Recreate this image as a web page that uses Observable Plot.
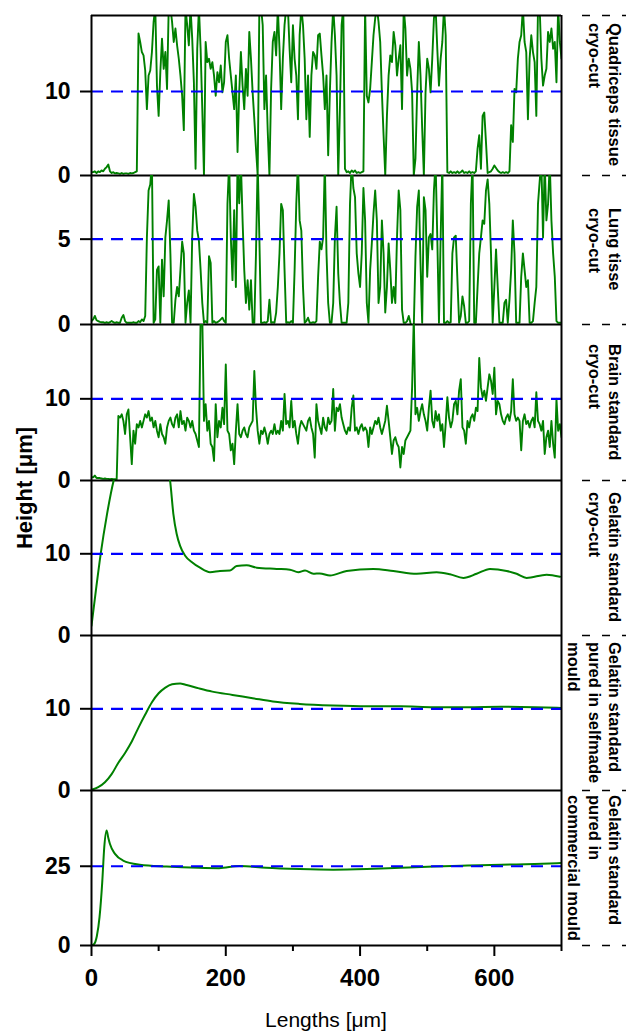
<!DOCTYPE html>
<html><head><meta charset="utf-8">
<script src="https://cdn.jsdelivr.net/npm/d3@7"></script>
<script src="https://cdn.jsdelivr.net/npm/@observablehq/plot@0.6"></script>
<style>
html,body{margin:0;padding:0;background:#fff;overflow:hidden;}
#chart{position:relative;width:626px;height:1032px;font-family:"Liberation Sans",Arial,sans-serif;color:#000;}
#chart svg{display:block;}
.side{position:absolute;right:1px;display:flex;align-items:center;}
.side div{writing-mode:vertical-rl;font-weight:bold;font-size:16.5px;line-height:20.5px;white-space:pre;}
.ylab{position:absolute;left:25px;top:488px;transform:translate(-50%,-50%) rotate(-90deg);font-weight:bold;font-size:22px;white-space:nowrap;}
.xlab{position:absolute;left:91px;width:470px;top:1009px;text-align:center;font-size:21px;line-height:21px;}
</style></head><body><div id="chart"></div><script>
// ---------- data ----------
const sampleStep = 2.5; // µm between profile samples of the cryo-cut tissue profiles

const quadricepsHeights = [
0.4,0.4,0.5,0.3,0.5,0.4,0.6,0.5,0.8,1.0,
1.3,0.5,0.3,0.4,0.25,0.3,0.25,0.2,0.3,0.2,
0.25,0.25,0.2,0.3,0.25,0.3,0.4,0.5,16.9,15.9,
14.7,14.3,12.5,7.9,11.9,12.5,14.7,18.3,20,10.7,
7.1,12.3,16.3,12.7,14.7,10.3,20,20,18.3,15.9,
17.5,15.5,13.9,11.9,9.5,5.4,20,17.9,15.5,20,
16.3,11.1,0.8,15.1,20,15.1,7.9,0,15.9,13.5,
13.9,12.7,13.5,11.9,9.5,12.3,11.1,13.1,9.9,11.1,
15.9,16.7,13.9,11.9,9.9,7.9,11.9,2.8,9.9,14.7,
10.7,7.9,12.7,9.5,17.1,13.9,9.9,6.7,3.2,0,
20,20,17.9,7.9,11.9,5.2,0,10.3,15.9,17.1,
14.3,20,15.1,7.9,13.9,17.9,20,20,15.1,11.1,
17.9,13.9,11.9,6.7,16.7,20,17.9,13.9,6.7,11.9,
4.6,11.9,14.7,14.3,12.7,16.7,16.9,14.3,11.9,7.9,
11.9,2.4,9.9,15.9,20,16.7,11.9,0,7.9,17.9,
20,0.8,0.4,0.5,0.3,0.6,0.4,0.6,0.3,0.4,
0.3,0.4,0.5,20,9.5,8.7,10.3,13.5,16.7,18.7,
20,18.3,15.9,9.9,4.8,0,7.1,11.9,14.3,13.5,
17.1,15.5,11.9,13.9,15.5,7.9,20,17.5,11.9,13.9,
12.7,9.9,0,2.0,9.9,15.9,11.9,5.6,0,9.9,
13.9,12.7,9.9,13.9,18.7,20,15.1,10.7,13.9,15.9,
20,16.7,0.4,0.3,0.5,0.3,0.4,0.3,0.5,0.3,
0.4,0.6,0.3,0.4,0.3,0.5,0.3,0.4,0.3,0.5,
3.2,4.8,0.8,7.1,7.5,4.0,0.3,0.4,0.5,0.8,
1.2,0.9,0.6,0.4,0.3,0.4,0.3,0.4,0.3,0.5,
6.0,4.0,10.3,9.9,13.9,15.9,16.7,20,15.9,14.7,
6.7,13.9,16.7,14.7,13.5,7.1,20,20,13.9,10.7,
11.9,12.7,17.1,15.9,17.5,15.1,15.9,11.1,20,15.9,13.9];

const lungHeights = [
0.2,0.3,0.5,0.25,0.2,0.15,0.13,0.13,0.1,0.13,
0.1,0.13,0.2,0.13,0.1,0.13,0.1,0.1,0.4,0.55,
0.2,0.1,0.1,0.1,0.1,0.13,0.1,0.1,0.2,0.13,
0.3,0.2,0.5,5.1,7.85,8.2,9.5,0.1,0.3,3.2,
3.4,0.1,3.8,1.65,5.1,6.1,7.27,4.17,0.1,0.1,
1.45,2.2,1.65,3.2,4.85,4.17,0.1,1.26,2.0,0.1,
5.1,7.65,6.9,5.5,4.9,3.2,1.26,0.1,0.2,0.1,
4.0,3.6,0.1,0.2,0.1,0.13,0.2,0.3,0.4,0.2,
0.1,7.07,9.5,5.1,2.6,6.7,2.2,9.5,7.1,9.5,
6.1,3.2,1.26,2.6,0.87,2.6,0.1,0.1,4.2,9.5,
5.1,0.1,0.1,0.13,0.1,0.2,1.45,0.1,0.13,0.1,
0.7,2.2,4.17,7.07,6.7,3.2,0.1,0.13,0.1,0.2,
0.1,3.2,7.07,9.5,6.1,5.5,2.2,0.1,0.2,0.4,
0.1,0.1,0.13,0.1,0.2,2.8,4.85,4.4,5.1,9.5,
4.17,1.26,0.1,0.1,1.26,5.1,6.9,3.0,1.26,0.1,
0.1,0.1,0.1,1.26,7.07,9.5,8.0,7.46,4.17,3.0,
2.2,4.17,8.0,6.1,1.26,0.1,3.2,4.75,6.5,7.85,
6.1,1.26,2.2,6.1,4.17,0.7,2.2,4.75,3.2,1.26,
2.2,1.26,5.1,7.85,6.7,0.87,0.1,0.1,0.2,0.5,
0.1,-0.2,-0.1,4.0,6.9,7.85,3.6,0.1,7.46,6.7,
2.8,5.1,5.3,4.4,7.85,9.5,5.1,0.1,5.1,9.5,
0.1,0.1,0.2,0.1,0.13,4.17,5.1,5.2,2.6,0.1,
0.5,1.65,1.07,0.1,0.1,0.2,7.07,9.5,0.1,0.1,
2.2,4.17,5.1,6.1,5.9,7.85,8.5,7.07,4.17,0.1,
2.2,4.4,2.2,0.1,0.1,0.1,1.26,1.45,0.1,1.45,
3.2,6.1,4.17,0.1,0.1,0.1,2.8,4.17,3.2,2.2,
2.6,0.1,0.1,0.2,1.26,2.2,7.07,8.4,9.5,5.1,
9.5,6.1,7.07,9.5,6.1,4.17,2.8,0.2,0.1,0.1,0.1];

const brainHeights = [
0.4,0.4,0.6,0.3,0.3,0.3,0.25,0.2,0.25,0.2,
0.2,0.15,0.2,0.15,0.15,0.15,7.9,7.7,8.1,7.3,
5.7,8.1,8.7,5.3,2.0,6.1,4.5,6.9,6.5,7.3,
6.5,7.3,8.1,7.7,8.5,7.3,7.7,6.5,7.3,6.1,
5.3,6.9,5.7,5.3,4.5,6.5,7.3,7.7,6.9,6.5,
7.7,8.1,6.5,8.5,6.9,7.3,6.1,7.7,7.3,6.5,
7.3,6.1,5.7,4.9,4.1,20,20,7.3,9.35,6.1,
7.3,4.5,4.1,2.4,9.35,5.3,7.3,6.5,8.9,6.9,
14.2,6.1,5.7,3.7,4.5,2.0,6.1,9.35,5.7,5.3,
6.1,6.5,5.7,5.3,6.5,6.9,7.3,13.4,8.9,6.1,
4.5,6.1,5.7,6.5,5.7,4.5,5.7,6.1,5.7,6.9,
5.7,6.1,5.7,7.3,6.1,10.6,6.9,7.3,6.5,9.75,
6.5,7.3,5.7,4.5,6.5,7.3,6.9,6.5,6.1,7.3,
7.7,6.5,5.7,2.8,9.35,7.3,6.5,5.7,7.7,6.5,
6.1,7.7,6.9,7.3,11.2,6.1,8.9,8.5,9.35,7.7,
6.9,6.1,5.7,6.5,6.1,8.9,10.4,6.1,6.5,5.7,
6.5,6.9,6.1,6.5,6.1,4.1,6.5,5.7,6.5,7.3,
6.9,7.7,6.5,5.7,6.5,7.3,9.15,7.3,5.3,3.25,
4.9,5.3,4.5,4.1,1.6,4.1,3.25,4.9,5.3,5.7,
6.1,11.4,20,8.1,8.9,7.3,8.5,9.35,8.1,7.3,
6.1,8.9,11.0,7.3,6.5,8.5,7.3,8.1,6.1,6.9,
4.1,6.9,10.2,7.7,6.5,7.3,9.35,9.75,8.1,11.0,
12.4,6.5,6.1,4.5,7.3,6.5,7.7,8.1,7.3,8.9,
8.5,15.0,11.4,10.2,11.0,9.75,11.4,13.0,12.2,10.6,
13.8,8.1,9.75,9.35,8.1,7.3,6.9,7.7,8.1,7.3,
8.5,12.4,8.1,7.3,7.7,7.3,3.7,7.3,8.1,6.9,
7.3,6.5,7.3,7.7,6.5,10.8,7.3,6.9,6.1,7.3,
3.25,5.3,6.1,4.1,7.3,4.5,2.8,10.0,6.1,6.9,5.3];

const gelatinCryoX = [0,6.5,13.7,23,33,40,60,80,100,112,117,121.9,126.8,131.8,139.2,149.2,161.6,176.5,191.4,206.3,216.2,231.1,246,275.8,295.6,308,318,330.4,340,355.2,380,419.7,449.5,484.3,514,534,553.8,573.6,593.5,618.3,633.2,648,677.9,697.8];
const gelatinCryoH = [1.2,5.5,10.0,14.8,18.97,21,23,23.5,23,21,18.98,14.9,12.45,11.0,9.8,9.0,8.3,7.75,7.9,7.95,8.5,8.6,8.3,8.15,8.05,7.75,7.95,7.55,7.6,7.35,7.9,8.15,7.9,7.55,7.75,7.5,7.05,7.55,8.15,7.9,7.55,7.05,7.45,7.2];

const selfmadeX = [0,10,20,30,40,50,60,70,80,90,100,110,120,132,140,160,180,210,240,270,310,360,410,460,510,560,610,660,700];
const selfmadeH = [0.1,0.4,1.0,2.0,3.4,4.6,6.0,7.7,9.3,10.8,11.9,12.6,13.0,13.1,12.95,12.5,12.1,11.7,11.3,10.9,10.6,10.4,10.3,10.3,10.2,10.2,10.25,10.2,10.1];

const commercialX = [0,4,8,12,16,19,22.5,25,27.5,35,47,72,112,160,190,220,260,310,360,410,460,510,560,610,660,700];
const commercialH = [0,0.5,3,9,20,31,36.3,34,32,28.9,26.8,25.5,24.9,24.5,24.4,25.1,24.5,24.1,23.9,24.1,24.5,24.9,25.2,25.5,25.7,26.0];

const sampleNames = ["Quadriceps tissue\ncryo-cut","Lung tisse\ncryo-cut","Brain standard\ncryo-cut","Gelatin standard\ncryo-cut","Gelatin standard\npured in selfmade\nmould","Gelatin standard\npured in\ncommercial mould"];
const referenceLevels = [10,5,10,10,10,25];
const yTickValues = [[0,10],[0,5],[0,10],[0,10],[0,10],[0,25]];
const yTops = [19.05,8.73,19.1,18.97,18.97,48.9];
const xMajorTicks = [0,200,400,600];
const xMinorTicks = [100,300,500,700];
const xDomain = [0,700];

// ---------- build ----------
const fromHeights = hs => hs.map((h,i) => ({x: i*sampleStep, y: h}));
const fromPairs = (xs, hs) => xs.map((x,i) => ({x, y: hs[i]}));
const series = [
  fromHeights(quadricepsHeights),
  fromHeights(lungHeights),
  fromHeights(brainHeights),
  fromPairs(gelatinCryoX, gelatinCryoH),
  fromPairs(selfmadeX, selfmadeH),
  fromPairs(commercialX, commercialH)
];
const smooth = [false, false, false, true, true, true];
// layout (pixels)
const layout = [
  {height:175, marginTop:15, marginBottom:0},
  {height:149, marginTop:0, marginBottom:0},
  {height:156, marginTop:0, marginBottom:0},
  {height:155, marginTop:0, marginBottom:0},
  {height:155, marginTop:0, marginBottom:0},
  {height:215, marginTop:0, marginBottom:60}
];

const chart = document.getElementById("chart");
let offsetY = 0;
series.forEach((data, i) => {
  const L = layout[i];
  const last = i === series.length - 1;
  const edges = i === 0 ? [0, yTops[i]] : [0];
  const marks = [
    Plot.line(data, {x: "x", y: "y", stroke: "#008000", strokeWidth: smooth[i] ? 2 : 1.9, clip: true, curve: smooth[i] ? "monotone-x" : "linear"}),
    Plot.ruleY([referenceLevels[i]], {stroke: "#0000ff", strokeWidth: 2.2, strokeDasharray: "12,8"}),
    Plot.ruleX(xDomain, {stroke: "#000", strokeWidth: 2}),
    Plot.ruleY(edges, {stroke: "#000", strokeWidth: 2}),
    Plot.ruleY(edges, {x1: 700, x2: 800, stroke: "#000", strokeWidth: 1.5, strokeDasharray: "0,21,8,12,8,12,8,12"}),
    Plot.axisY({ticks: yTickValues[i], tickSize: 11, tickPadding: 10, fontSize: 23, fontWeight: "bold", strokeWidth: 2, tickFormat: d => `${d}`, label: null})
  ];
  if (last) {
    marks.push(Plot.axisX(xMajorTicks, {tickSize: 11, tickPadding: 12, fontSize: 24, fontWeight: "bold", strokeWidth: 2, tickFormat: d => `${d}`, label: null}));
    marks.push(Plot.axisX(xMinorTicks, {tickSize: 6, strokeWidth: 2, tickFormat: () => "", label: null}));
  }
  const svg = Plot.plot({
    width: 626, height: L.height,
    marginLeft: 91, marginRight: 65, marginTop: L.marginTop, marginBottom: L.marginBottom,
    style: "overflow: visible; background: transparent; font-family: 'Liberation Sans', Arial, sans-serif; color: black;",
    x: {domain: xDomain, axis: null},
    y: {domain: [0, yTops[i]], axis: null},
    marks
  });
  chart.appendChild(svg);
  // side label
  const pTop = offsetY + L.marginTop;
  const pH = L.height - L.marginTop - L.marginBottom;
  const side = document.createElement("div");
  side.className = "side";
  side.style.top = pTop + "px";
  side.style.height = pH + "px";
  const inner = document.createElement("div");
  inner.textContent = sampleNames[i];
  side.appendChild(inner);
  chart.appendChild(side);
  offsetY += L.height;
});

const ylab = document.createElement("div");
ylab.className = "ylab";
ylab.textContent = "Height [μm]";
chart.appendChild(ylab);
const xlab = document.createElement("div");
xlab.className = "xlab";
xlab.textContent = "Lengths [μm]";
chart.appendChild(xlab);
</script></body></html>
